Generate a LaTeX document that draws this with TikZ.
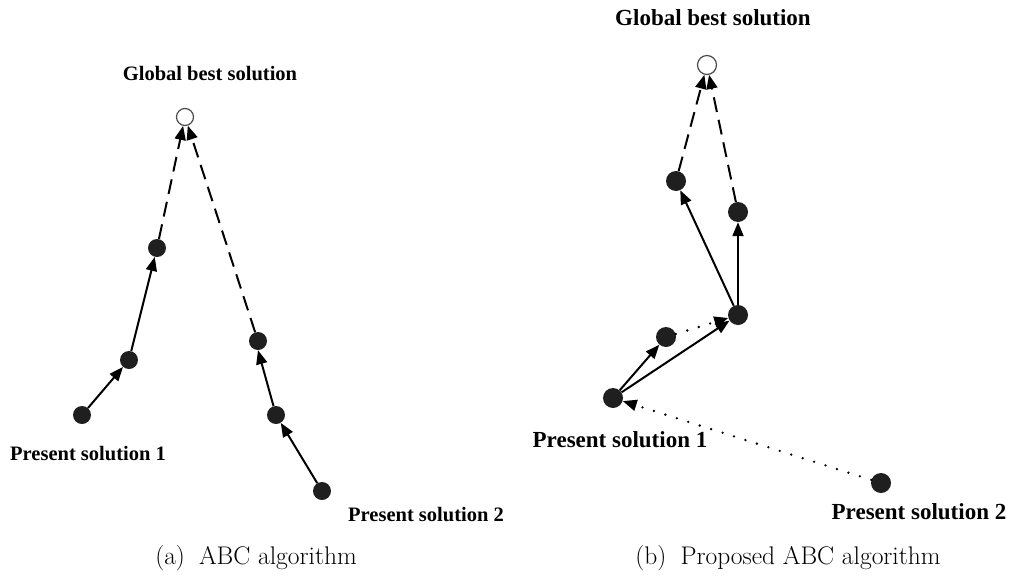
\documentclass[tikz,border=0pt]{standalone}
\usepackage{fontspec}
\newfontfamily\labelfont{Liberation Serif}
\usetikzlibrary{arrows.meta}

\begin{document}
\begin{tikzpicture}[x=1pt, y=-1pt,
        sol/.style={circle, fill=black!88, inner sep=0pt, minimum size=18pt},
        best/.style={circle, draw=black!70, line width=1.2pt, fill=white, inner sep=0pt, minimum size=17pt},
        lbl/.style={font=\labelfont\bfseries\fontsize{20.5}{24}\selectfont},
        subcap/.style={font=\fontsize{25.5}{30}\selectfont},
        move/.style={line width=2pt, -{Triangle[length=14pt, width=11pt]}},
        jump/.style={move, dash pattern=on 15pt off 8pt},
        probe/.style={move, line cap=round, dash pattern=on 0pt off 12pt, line width=2.6pt}]

        \useasboundingbox (0,0) rectangle (1010,581);

        % (a) ABC algorithm
        \begin{scope}
            \node[best] (ga) at (185,117) {};
            \node[lbl] (galbl) at (210,74) {Global best solution};

            \node[sol] (a0) at (82,415) {};
            \node[sol] (a1) at (129,360) {};
            \node[sol] (a2) at (157,248) {};
            \node[sol] (b0) at (322,491) {};
            \node[sol] (b1) at (276,415) {};
            \node[sol] (b2) at (258,341) {};

            \node[lbl] (a0lbl) at (88,454) {Present solution 1};
            \node[lbl] (b0lbl) at (426,515) {Present solution 2};

            \draw[move] (a0) -- (a1);
            \draw[move] (a1) -- (a2);
            \draw[jump] (a2) -- (ga);
            \draw[move] (b0) -- (b1);
            \draw[move] (b1) -- (b2.south);
            \draw[jump] (b2) -- (ga);

            \node[subcap] (capa) at (256,558) {(a)\hskip0.55em ABC algorithm};
        \end{scope}

        % (b) Proposed ABC algorithm
        \begin{scope}[sol/.append style={minimum size=20pt}, best/.append style={minimum size=19pt},
                lbl/.append style={font=\labelfont\bfseries\fontsize{23}{27}\selectfont}]
            \node[best] (gb) at (707,65) {};
            \node[lbl] (gblbl) at (713,18) {Global best solution};

            \node[sol] (p1) at (613,398) {};
            \node[sol] (p2) at (881,483) {};
            \node[sol] (e) at (666,337) {};
            \node[sol] (d) at (738,315) {};
            \node[sol] (c1) at (676,181) {};
            \node[sol] (c2) at (738,212) {};

            \node[lbl] (p1lbl) at (620,440) {Present solution 1};
            \node[lbl] (p2lbl) at (919,512) {Present solution 2};

            \draw[probe] (p2) -- (p1);
            \draw[move] (p1) -- (e);
            \draw[move] (p1) -- (d);
            \draw[probe] (e) -- (d);
            \draw[move] (d) -- (c1);
            \draw[move] (d) -- (c2);
            \draw[jump] (c1) -- (gb);
            \draw[jump] (c2) -- (gb);

            \node[subcap] (capb) at (788,558) {(b)\hskip0.55em Proposed ABC algorithm};
        \end{scope}
\end{tikzpicture}
\end{document}
